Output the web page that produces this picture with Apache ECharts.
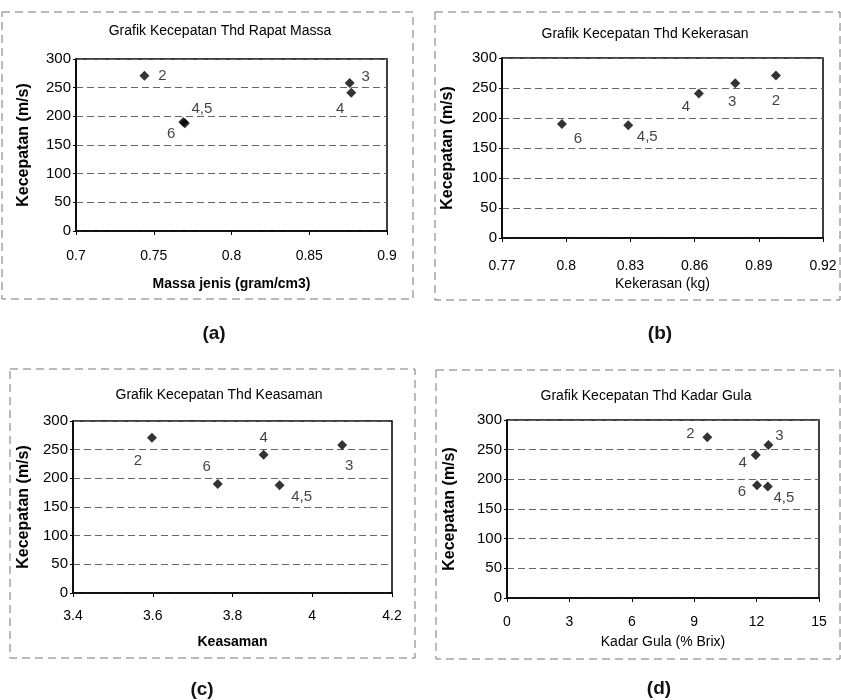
<!DOCTYPE html>
<html>
<head>
<meta charset="utf-8">
<script src="https://cdn.jsdelivr.net/npm/echarts@6/dist/echarts.min.js"></script>
<style>
  html, body { margin: 0; padding: 0; background: #fff; }
  #chart { width: 841px; height: 700px; }
</style>
</head>
<body>
<div id="chart"></div>
<script>
// sample labels (same for every panel)
const sampleNames = ['2', '3', '4', '4,5', '6'];
// kecepatan (m/s) per sample
const kecepatan = [271, 258, 241, 188, 190];

// x values per panel
const massaJenis = [0.744, 0.876, 0.877, 0.770, 0.769];
const kekerasan = [0.898, 0.879, 0.862, 0.829, 0.798];
const keasaman = [3.598, 4.075, 3.878, 3.918, 3.763];
const kadarGula = [9.63, 12.57, 11.96, 12.54, 12.02];

const yTicks = [0, 50, 100, 150, 200, 250, 300];

const panelTitles = [
  'Grafik Kecepatan Thd Rapat Massa',
  'Grafik Kecepatan Thd Kekerasan',
  'Grafik Kecepatan Thd Keasaman',
  'Grafik Kecepatan Thd Kadar Gula'
];
const xNames = ['Massa jenis (gram/cm3)', 'Kekerasan (kg)', 'Keasaman', 'Kadar Gula (% Brix)'];
const panelTags = ['(a)', '(b)', '(c)', '(d)'];

// label offset from point centre, per panel (style only)
const labelOffset = [
  [[18, 0], [16, -6], [-11, 16], [17, -14], [-12, 12]],
  [[0, 25], [-3, 19], [-13, 13], [19, 12], [16, 15]],
  [[-14, 23], [7, 21], [0, -17], [22, 12], [-11, -17]],
  [[-17, -3], [11, -9], [-13, 8], [16, 11], [-15, 7]]
];

const xs = [massaJenis, kekerasan, keasaman, kadarGula];
const xAxisRange = [
  { min: 0.7, max: 0.9, interval: 0.05 },
  { min: 0.77, max: 0.92, interval: 0.03 },
  { min: 3.4, max: 4.2, interval: 0.2 },
  { min: 0, max: 15, interval: 3 }
];

const grids = [
  { left: 76, top: 59, width: 311, height: 172 },
  { left: 502, top: 58, width: 321, height: 180 },
  { left: 73, top: 421, width: 319, height: 172 },
  { left: 507, top: 420, width: 312, height: 178 }
];
const yNameGap = [44, 46, 41, 49];
const xNameGap = [46, 39, 42, 37];
const xLabelMargin = [18, 21, 16, 17];
const xNameBold = [true, false, true, false];

const titlePos = [
  { x: 215, y: 19 }, { x: 640, y: 22 }, { x: 214, y: 383 }, { x: 641, y: 384 }
];
const tagPos = [
  { x: 209, y: 319 }, { x: 655, y: 319 }, { x: 197, y: 675 }, { x: 654, y: 674 }
];
const frames = [
  { x: 2, y: 12, w: 411, h: 287 },
  { x: 435, y: 12, w: 405, h: 288 },
  { x: 10, y: 369, w: 405, h: 289 },
  { x: 436, y: 370, w: 404, h: 289 }
];

const font = '"Liberation Sans", Arial, sans-serif';

const option = {
  animation: false,
  backgroundColor: '#fff',
  title: [],
  grid: [],
  xAxis: [],
  yAxis: [],
  series: [],
  graphic: []
};

for (let i = 0; i < 4; i++) {
  option.title.push({
    text: panelTitles[i],
    left: titlePos[i].x, top: titlePos[i].y,
    textAlign: 'center',
    textStyle: { fontFamily: font, fontSize: 14, fontWeight: 'normal', color: '#000', letterSpacing: -0.3 }
  });
  option.title.push({
    text: panelTags[i],
    left: tagPos[i].x, top: tagPos[i].y,
    textAlign: 'center',
    textStyle: { fontFamily: font, fontSize: 19, fontWeight: 'bold', color: '#111' }
  });

  option.grid.push(Object.assign({
    show: true, borderColor: '#000', borderWidth: 1.5, backgroundColor: 'transparent'
  }, grids[i]));

  option.xAxis.push(Object.assign({
    gridIndex: i,
    type: 'value',
    name: xNames[i],
    nameLocation: 'middle',
    nameGap: xNameGap[i],
    nameTextStyle: { fontFamily: font, fontSize: 14, fontWeight: xNameBold[i] ? 'bold' : 'normal', color: '#000' },
    axisLine: { show: true, onZero: false, lineStyle: { color: '#000', width: 1.5 } },
    axisTick: { show: true, length: 4, lineStyle: { color: '#000' } },
    axisLabel: { fontFamily: font, fontSize: 14, color: '#000', margin: xLabelMargin[i] },
    splitLine: { show: false }
  }, xAxisRange[i]));

  option.yAxis.push({
    gridIndex: i,
    type: 'value',
    min: yTicks[0], max: yTicks[yTicks.length - 1], interval: 50,
    name: 'Kecepatan (m/s)',
    nameLocation: 'middle',
    nameGap: yNameGap[i],
    nameTextStyle: { fontFamily: font, fontSize: 16, fontWeight: 'bold', color: '#000' },
    axisLine: { show: true, onZero: false, lineStyle: { color: '#000', width: 1.5 } },
    axisTick: { show: true, length: 3, lineStyle: { color: '#000' } },
    axisLabel: { fontFamily: font, fontSize: 15, color: '#000', margin: 5 },
    splitLine: { show: true, lineStyle: { color: '#666', type: [7, 4], width: 1 } }
  });

  option.series.push({
    type: 'scatter',
    xAxisIndex: i, yAxisIndex: i,
    symbol: 'diamond',
    symbolSize: 10,
    itemStyle: { color: '#000' },
    data: xs[i].map((x, k) => ({
      value: [x, kecepatan[k]],
      name: sampleNames[k],
      label: {
        show: true,
        formatter: sampleNames[k],
        position: 'inside',
        offset: labelOffset[i][k],
        fontFamily: font,
        fontSize: 15,
        color: '#111'
      }
    }))
  });

  option.graphic.push({
    type: 'rect',
    shape: { x: frames[i].x, y: frames[i].y, width: frames[i].w, height: frames[i].h },
    style: { fill: 'none', stroke: '#777', lineWidth: 1, lineDash: [8, 5] },
    silent: true
  });
}

const chart = echarts.init(document.getElementById('chart'));
chart.setOption(option);
</script>
</body>
</html>
